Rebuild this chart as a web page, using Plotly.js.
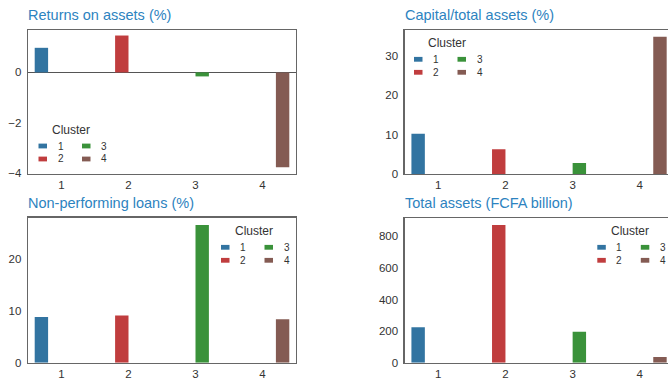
<!DOCTYPE html>
<html>
<head>
<meta charset="utf-8">
<script src="https://cdn.plot.ly/plotly-3.0.1.min.js"></script>
<style>
html, body { margin: 0; padding: 0; overflow: hidden; background: #fff; }
#chart { width: 680px; height: 381px; }
</style>
</head>
<body>
<div id="chart"></div>
<script>
// ---- data ----
const categories = [1, 2, 3, 4];
const clusterNames = ['1', '2', '3', '4'];
const returnsOnAssets = [0.98, 1.47, -0.16, -3.78];
const capitalToAssets = [10.2, 6.3, 2.8, 34.8];
const nonPerformingLoans = [8.8, 9.1, 26.5, 8.35];
const totalAssets = [224, 871, 196, 36];
const panelTitles = ['Returns on assets (%)', 'Capital/total assets (%)', 'Non-performing loans (%)', 'Total assets (FCFA billion)'];
const legendTitle = 'Cluster';

// ---- styles ----
const palette = ['#3274a1', '#c03d3e', '#3a923a', '#845b53'];
const W = 680, H = 381;
const FONT = 'Arial, "Liberation Sans", sans-serif';
const px = v => v / W;
const py = v => 1 - v / H;

const panels = [
  {values: returnsOnAssets, x: [28, 296], y: [30, 174], range: [-4.05, 1.69], dtick: 2, zero: true, leg: [38.5, 146]},
  {values: capitalToAssets, x: [404.7, 673.4], y: [30, 174], range: [0, 36.5], dtick: 10, zero: false, leg: [414, 59.3]},
  {values: nonPerformingLoans, x: [28, 296], y: [217.7, 362.7], range: [0, 27.9], dtick: 10, zero: false, leg: [221, 247.3]},
  {values: totalAssets, x: [404.7, 673.4], y: [218.3, 362.7], range: [0, 914], dtick: 200, zero: false, leg: [597.3, 247.3]}
];

const traces = [];
const layout = {
  width: W, height: H,
  margin: {l: 0, r: 0, t: 0, b: 0},
  paper_bgcolor: '#fff', plot_bgcolor: '#fff',
  barmode: 'group', bargap: 0.2, bargroupgap: 0,
  font: {family: FONT, color: '#333'},
  showlegend: false,
  annotations: [],
  shapes: []
};

panels.forEach((p, k) => {
  const sfx = k === 0 ? '' : String(k + 1);
  const xa = 'x' + sfx, ya = 'y' + sfx;
  clusterNames.forEach((name, i) => {
    traces.push({
      type: 'bar',
      name: name,
      x: categories,
      y: categories.map((c, j) => (j === i ? p.values[i] : null)),
      xaxis: xa, yaxis: ya,
      marker: {color: palette[i], line: {width: 0}},
      showlegend: false,
      hoverinfo: 'x+y+name'
    });
  });
  layout['xaxis' + sfx] = {
    domain: [px(p.x[0]), px(p.x[1])], anchor: ya,
    range: [0.5, 4.5], tickvals: categories, ticktext: categories.map(String),
    showline: true, mirror: true, linecolor: '#666', linewidth: 1.3,
    showgrid: false, zeroline: false, ticks: '',
    tickfont: {size: 11.5, color: '#333', family: FONT}
  };
  layout['yaxis' + sfx] = {
    domain: [py(p.y[1]), py(p.y[0])], anchor: xa,
    range: p.range, dtick: p.dtick, tick0: 0,
    showline: true, mirror: true, linecolor: '#666', linewidth: 1.3,
    showgrid: false, zeroline: p.zero, zerolinecolor: '#555', zerolinewidth: 1.3,
    ticks: '', ticklabelstandoff: 3,
    tickfont: {size: 11.5, color: '#333', family: FONT}
  };
  layout.annotations.push({
    text: panelTitles[k], xref: 'paper', yref: 'paper',
    x: px(p.x[0]) - 0.003, y: py(p.y[0] - 15), xanchor: 'left', yanchor: 'middle',
    showarrow: false, font: {size: 14.5, color: '#2d83c0', family: FONT}
  });

  // legend: title "Cluster", two columns (1,2 | 3,4)
  const L = p.leg[0], T = p.leg[1];
  layout.annotations.push({
    text: legendTitle, xref: 'paper', yref: 'paper',
    x: px(L + 32.5), y: py(T - 16), xanchor: 'center', yanchor: 'middle',
    showarrow: false, font: {size: 12, color: '#333', family: FONT}
  });
  clusterNames.forEach((name, i) => {
    const col = Math.floor(i / 2), row = i % 2;
    const sx = L + col * 43.5, sy = T + row * 13;
    layout.shapes.push({
      type: 'rect', xref: 'paper', yref: 'paper',
      x0: px(sx), x1: px(sx + 8.5), y0: py(sy + 2.4), y1: py(sy - 2.4),
      fillcolor: palette[i], line: {width: 0}
    });
    layout.annotations.push({
      text: name, xref: 'paper', yref: 'paper',
      x: px(sx + 17), y: py(sy), xanchor: 'left', yanchor: 'middle',
      showarrow: false, font: {size: 10, color: '#333', family: FONT}
    });
  });
});

Plotly.newPlot('chart', traces, layout, {displayModeBar: false, staticPlot: true});
</script>
</body>
</html>
